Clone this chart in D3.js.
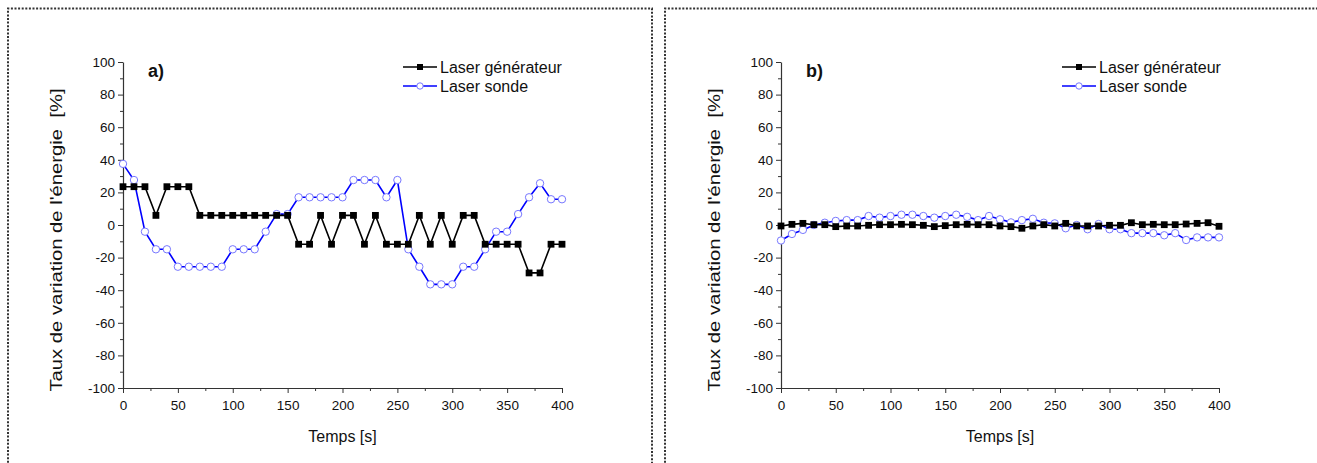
<!DOCTYPE html>
<html><head><meta charset="utf-8">
<script src="https://cdn.jsdelivr.net/npm/d3@7"></script>
<style>body{margin:0;background:#fff;} svg{display:block;font-family:"Liberation Sans",Arial,sans-serif;}</style>
</head><body><svg id="c" width="1317" height="463"></svg>
<script>
const times = d3.range(0, 401, 10);
const genA = [23.5,23.5,23.5,5.9,23.5,23.5,23.5,5.9,5.9,5.9,5.9,5.9,5.9,5.9,5.9,5.9,-11.8,-11.8,5.9,-11.8,5.9,5.9,-11.8,5.9,-11.8,-11.8,-11.8,5.9,-11.8,5.9,-11.8,5.9,5.9,-11.8,-11.8,-11.8,-11.8,-29.4,-29.4,-11.8,-11.8];
const sondeA = [37.5,27.6,-4.1,-14.9,-14.9,-25.6,-25.6,-25.6,-25.6,-25.6,-14.9,-14.9,-14.9,-4.1,6.7,6.7,17,17,17,17,17,27.6,27.6,27.6,17,27.6,-14.9,-25.6,-36.4,-36.4,-36.4,-25.6,-25.6,-14.9,-4.1,-4.1,6.7,17,25.6,15.8,15.8];
const genB = [-0.6,0.4,1,0.2,0.2,-1,-0.6,-0.6,-0.2,0.2,0.2,0.4,0.2,-0.2,-1,-0.4,0.2,0.4,0.2,0.2,-0.6,-1,-2,-0.6,0.2,-0.6,1,-0.6,-0.6,-0.6,-0.2,-0.2,1.4,0.2,0.4,0.2,0.2,0.6,1,1.4,-0.8];
const sondeB = [-9.5,-5.5,-3,0,1.4,2.5,3,3,5.5,4.5,5.5,6.3,6.3,5.5,4.5,5.5,6.3,5,3,5.5,3.5,1.6,3,3.8,1.4,1,-2,0,-2.6,0.6,-2.6,-2.6,-5,-5,-5,-6.3,-5,-9.2,-7.6,-7.6,-7.6];
const xTicks = [0,50,100,150,200,250,300,350,400];
const yTicks = [-100,-80,-60,-40,-20,0,20,40,60,80,100];
const seriesNames = ["Laser générateur","Laser sonde"];
const panelLabels = ["a)","b)"];
const xTitle = "Temps [s]";
const yTitle = "Taux de variation de l'énergie  [%]";

const svg = d3.select("#c");

const frames = [{x0:8,x1:652},{x0:665,x1:1330}];
frames.forEach(f=>{
  svg.append("path")
    .attr("d",`M${f.x0},470 L${f.x0},8.5 L${f.x1},8.5 L${f.x1},470`)
    .attr("fill","none").attr("stroke","#333").attr("stroke-width",2).attr("stroke-dasharray","2,1.6");
});

const panels = [
  {left:123,right:562,gen:genA,sonde:sondeA,label:panelLabels[0],labelX:148,legX:403},
  {left:781,right:1219,gen:genB,sonde:sondeB,label:panelLabels[1],labelX:806,legX:1062}
];
const plotTop=62, plotBottom=388;
const fmt = d => String(d);

panels.forEach(p=>{
  const g = svg.append("g");
  const x = d3.scaleLinear().domain([0,400]).range([p.left,p.right]);
  const y = d3.scaleLinear().domain([-100,100]).range([plotBottom,plotTop]);

  const xm = g.append("g").attr("transform",`translate(0,${plotBottom})`)
    .call(d3.axisBottom(x).tickValues(d3.range(25,400,50)).tickSize(3).tickFormat(""));
  xm.select(".domain").remove();
  const ym = g.append("g").attr("transform",`translate(${p.left},0)`)
    .call(d3.axisLeft(y).tickValues(d3.range(-90,100,20)).tickSize(3).tickFormat(""));
  ym.select(".domain").remove();

  const xa = g.append("g").attr("transform",`translate(0,${plotBottom})`)
    .call(d3.axisBottom(x).tickValues(xTicks).tickSize(5).tickSizeOuter(0).tickPadding(7).tickFormat(fmt));
  const ya = g.append("g").attr("transform",`translate(${p.left},0)`)
    .call(d3.axisLeft(y).tickValues(yTicks).tickSize(5).tickSizeOuter(0).tickPadding(3).tickFormat(fmt));
  [xa,ya,xm,ym].forEach(a=>{
    a.selectAll("line").attr("stroke","#333").attr("stroke-width",1);
    a.select(".domain").attr("stroke","#333").attr("stroke-width",1.2);
    a.selectAll("text").attr("font-family","Liberation Sans, Arial, sans-serif").attr("font-size",13.5).attr("fill","#111");
  });

  g.append("text").attr("x",(p.left+p.right)/2).attr("y",442).attr("text-anchor","middle")
    .attr("font-size",16).attr("fill","#111").text(xTitle);
  g.append("text").attr("transform",`translate(${p.left-61},240) rotate(-90)`)
    .attr("text-anchor","middle").attr("font-size",16).attr("fill","#111")
    .attr("xml:space","preserve").style("white-space","pre")
    .attr("textLength",303).attr("lengthAdjust","spacingAndGlyphs").text(yTitle);
  g.append("text").attr("x",p.labelX).attr("y",77).attr("font-size",18).attr("font-weight","bold").attr("fill","#111").text(p.label);

  const line = d3.line().x((d,i)=>x(times[i])).y(d=>y(d));
  g.append("path").datum(p.sonde).attr("d",line).attr("fill","none").attr("stroke","#0000ff").attr("stroke-width",1.6);
  g.selectAll(".cs").data(p.sonde).enter().append("circle")
    .attr("cx",(d,i)=>x(times[i])).attr("cy",d=>y(d)).attr("r",3.7)
    .attr("fill","#fff").attr("stroke","#7777ff").attr("stroke-width",1);
  g.append("path").datum(p.gen).attr("d",line).attr("fill","none").attr("stroke","#000").attr("stroke-width",1.6);
  g.selectAll(".sq").data(p.gen).enter().append("rect")
    .attr("x",(d,i)=>x(times[i])-3.4).attr("y",d=>y(d)-3.4).attr("width",6.8).attr("height",6.8).attr("fill","#000");

  const lg = g.append("g");
  const rows = [{c:"#000",m:"sq",n:seriesNames[0],yy:67},{c:"#0000ff",m:"ci",n:seriesNames[1],yy:86}];
  rows.forEach(r=>{
    lg.append("line").attr("x1",p.legX).attr("x2",p.legX+34).attr("y1",r.yy).attr("y2",r.yy).attr("stroke",r.c).attr("stroke-width",1.6);
    if(r.m==="sq") lg.append("rect").attr("x",p.legX+14).attr("y",r.yy-3).attr("width",6).attr("height",6).attr("fill","#000");
    else lg.append("circle").attr("cx",p.legX+17).attr("cy",r.yy).attr("r",3.2).attr("fill","#fff").attr("stroke","#7777ff");
    lg.append("text").attr("x",p.legX+37).attr("y",r.yy+5.5).attr("font-size",16).attr("fill","#111").text(r.n);
  });
});
</script></body></html>
